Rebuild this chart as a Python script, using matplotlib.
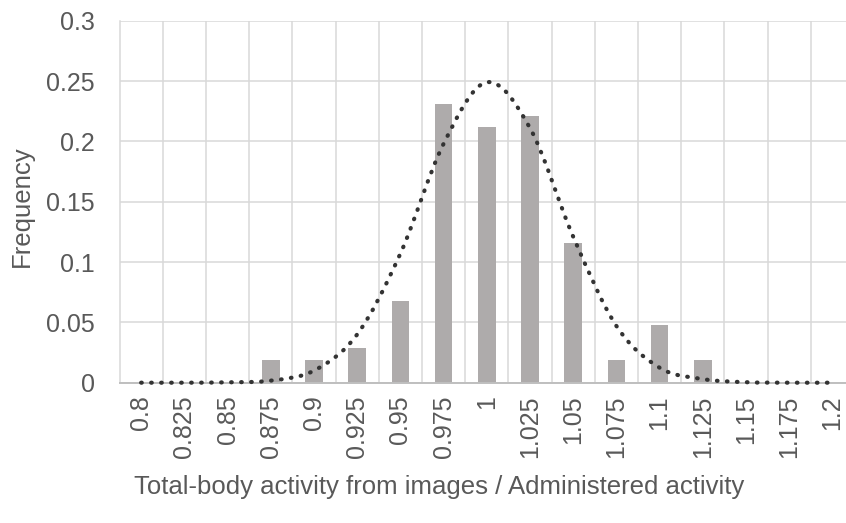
#!/usr/bin/env python3
"""
Histograma da razão atividade total (imagens) / atividade administrada,
com a curva normal ajustada em pontilhado.
"""

import numpy as np
import matplotlib.pyplot as plt
from matplotlib.path import Path
from matplotlib.patches import PathPatch

# ── Dados ────────────────────────────────────────────────────────────────
CATEGORIES = [ "0.8", "0.825", "0.85", "0.875", "0.9", "0.925", "0.95", "0.975",
               "1", "1.025", "1.05", "1.075", "1.1", "1.125", "1.15", "1.175", "1.2" ]
FREQUENCY = [ 0, 0, 0, 0.0192, 0.0192, 0.0288, 0.0673, 0.2308,
              0.2115, 0.2212, 0.1154, 0.0192, 0.0481, 0.0192, 0, 0, 0 ]
NORMAL_FIT = [ 0, 0, 0.0003, 0.0017, 0.0100, 0.0400, 0.1070, 0.1980,
               0.2490, 0.2110, 0.1210, 0.0470, 0.0124, 0.0030, 0.0004, 0, 0 ]
Y_TICKS = [ 0, 0.05, 0.1, 0.15, 0.2, 0.25, 0.3 ]
Y_TICK_LABELS = [ "0", "0.05", "0.1", "0.15", "0.2", "0.25", "0.3" ]

# ── Estilo ───────────────────────────────────────────────────────────────
TEXT = "#595959"
GRID = "#D9D9D9"
AXIS = "#BFBFBF"
BAR = "#AEABAB"
CURVE = "#333333"
FONT = "Liberation Sans"
FS = 18
FS_LABEL = 18.5


def smooth_path( xs, ys ):
    """Curva suavizada (estilo Excel) com segmentos Bézier cúbicos."""
    pts = np.column_stack( [ xs, ys ] )
    verts = [ pts[ 0 ] ]
    codes = [ Path.MOVETO ]
    n = len( pts )
    for i in range( n - 1 ):
        p0 = pts[ max( i - 1, 0 ) ]
        p1 = pts[ i ]
        p2 = pts[ i + 1 ]
        p3 = pts[ min( i + 2, n - 1 ) ]
        c1 = p1 + (p2 - p0) / 6
        c2 = p2 - (p3 - p1) / 6
        verts += [ c1, c2, p2 ]
        codes += [ Path.CURVE4 ] * 3
    return Path( verts, codes )


def main():
    plt.rcParams[ "font.family" ] = [ FONT, "DejaVu Sans" ]

    fig = plt.figure( figsize = (8.46, 5.23), dpi = 100 )
    ax = fig.add_axes( [ 0.1413, 0.2683, 0.8682, 0.6921 ] )

    x = np.arange( len( CATEGORIES ) )
    ax.bar( x, FREQUENCY, width = 0.41, color = BAR, zorder = 2 )

    patch = PathPatch(
        smooth_path( x, NORMAL_FIT ),
        facecolor = "none",
        edgecolor = CURVE,
        linewidth = 3.0,
        linestyle = (0, (0.15, 2.25)),
        capstyle = "round",
        zorder = 5,
        clip_on = False,
    )
    ax.add_patch( patch )

    ax.set_xlim( -0.5, len( CATEGORIES ) - 0.5 )
    ax.set_ylim( 0, 0.3 )

    ax.set_xticks( x )
    ax.set_xticklabels( CATEGORIES, rotation = 90, fontsize = FS, color = TEXT )
    ax.set_yticks( Y_TICKS )
    ax.set_yticklabels( Y_TICK_LABELS, fontsize = FS, color = TEXT )
    ax.tick_params( axis = "x", length = 0, pad = 9 )
    ax.tick_params( axis = "y", length = 0, pad = 18 )

    # grade vertical nas fronteiras das categorias
    ax.set_xticks( x[ :-1 ] + 0.5, minor = True )
    ax.tick_params( which = "minor", length = 0 )
    ax.grid( axis = "x", which = "minor", color = GRID, linewidth = 1.1, zorder = 0 )
    ax.grid( axis = "y", which = "major", color = GRID, linewidth = 1.1, zorder = 0 )
    ax.set_axisbelow( True )

    for side in ("top", "right"):
        ax.spines[ side ].set_visible( False )
    ax.spines[ "left" ].set_color( GRID )
    ax.spines[ "left" ].set_linewidth( 1.1 )
    ax.spines[ "bottom" ].set_color( AXIS )
    ax.spines[ "bottom" ].set_linewidth( 1.4 )
    ax.spines[ "bottom" ].set_zorder( 4 )

    fig.text( 22 / 846, 1 - 206 / 523, "Frequency", rotation = 90,
              ha = "center", va = "center", fontsize = FS_LABEL, color = TEXT )
    fig.text( 439 / 846, 1 - 487 / 523,
              "Total-body activity from images / Administered activity",
              ha = "center", va = "center", fontsize = FS_LABEL, color = TEXT )

    fig.savefig( "out.png", dpi = 100, facecolor = "white" )
    plt.close( fig )


if __name__ == "__main__":
    main()
